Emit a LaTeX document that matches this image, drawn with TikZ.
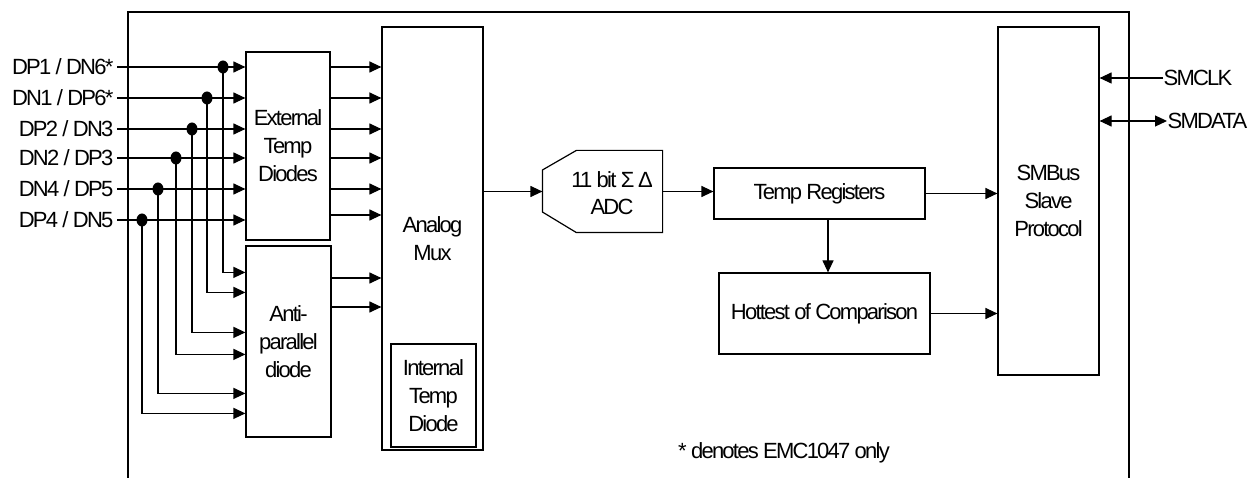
\documentclass[tikz,border=0pt]{standalone}
\usepackage{fontspec}
\setmainfont{Liberation Sans}[LetterSpace=-8]
\usetikzlibrary{arrows.meta,calc,shapes.geometric}
\begin{document}
\begin{tikzpicture}[x=1pt,y=-1pt,line width=1.2pt,
  box/.style={draw,rectangle,inner sep=0pt,align=center,font=\fontsize{22}{28}\selectfont},
  arr/.style={-{Triangle[length=12pt,width=11pt]}},
  darr/.style={{Triangle[length=12pt,width=11pt]}-{Triangle[length=12pt,width=11pt]}},
  lab/.style={font=\fontsize{22}{27}\selectfont,inner sep=0pt,align=center},
  dot/.style={ellipse,fill,inner sep=0pt,minimum width=11pt,minimum height=13pt}]
\useasboundingbox (0,0) rectangle (1256,478);
% outer frame
\draw (128,478) -- (128,12) -- (1129,12) -- (1129,478);
% blocks
\node[box,minimum width=84pt,minimum height=188pt] (ext) at (288,146) {External\\Temp\\Diodes};
\node[box,minimum width=85pt,minimum height=191pt] (anti) at (288.5,341.5) {Anti-\\parallel\\diode};
\node[box,minimum width=101pt,minimum height=423pt] (mux) at (432.5,238.5) {Analog\\Mux};
\node[box,minimum width=85pt,minimum height=103pt] (itd) at (433.5,395.5) {Internal\\Temp\\Diode};
\node[minimum width=119pt,minimum height=81pt,inner sep=0pt] (adc) at (602.5,191.5) {};
\draw (adc.north east) -- (adc.south east) -- ($(adc.south west)+(34,0)$) -- ($(adc.west)+(0,20.5)$)
  -- ($(adc.west)+(0,-21.5)$) -- ($(adc.north west)+(34,0)$) -- cycle;
\node[lab] (adct) at (612,193) {11 bit Σ\,Δ\\ADC};
\node[box,minimum width=211pt,minimum height=51pt] (treg) at (819.5,193.5) {Temp Registers};
\node[box,minimum width=211pt,minimum height=81pt] (hot) at (824.5,313.5) {Hottest of Comparison};
\node[box,minimum width=101pt,minimum height=348pt] (smb) at (1048.5,201) {SMBus\\Slave\\Protocol};
% input labels
\node[lab,anchor=east,inner xsep=3pt] (l1) at (117,67) {DP1 / DN6*};
\node[lab,anchor=east,inner xsep=3pt] (l2) at (117,98) {DN1 / DP6*};
\node[lab,anchor=east,inner xsep=3pt] (l3) at (117,129) {DP2 / DN3};
\node[lab,anchor=east,inner xsep=3pt] (l4) at (117,158) {DN2 / DP3};
\node[lab,anchor=east,inner xsep=3pt] (l5) at (117,189) {DN4 / DP5};
\node[lab,anchor=east,inner xsep=3pt] (l6) at (117,220) {DP4 / DN5};
% junction dots
\node[dot] (d1) at (223,67) {};
\node[dot] (d2) at (207,98) {};
\node[dot] (d3) at (192,129) {};
\node[dot] (d4) at (176,158) {};
\node[dot] (d5) at (158,189) {};
\node[dot] (d6) at (142,220) {};
% inputs to external diodes
\foreach \k in {1,...,6}{
  \draw[arr] (l\k.east) -- (d\k -| ext.west);
}
% taps to anti-parallel diode
\draw[arr] (d1.center) |- ($(anti.north west)+(0,27)$);
\draw[arr] (d2.center) |- ($(anti.north west)+(0,47)$);
\draw[arr] (d3.center) |- ($(anti.north west)+(0,87)$);
\draw[arr] (d4.center) |- ($(anti.north west)+(0,109)$);
\draw[arr] (d5.center) |- ($(anti.north west)+(0,148)$);
\draw[arr] (d6.center) |- ($(anti.north west)+(0,168)$);
% external diodes to mux
\foreach \k in {1,...,5}{
  \draw[arr] (ext.east |- d\k) -- (mux.west |- d\k);
}
\draw[arr] (ext.east |- 0,215) -- (mux.west |- 0,215);
% anti-parallel to mux
\draw[arr] (anti.east |- 0,278) -- (mux.west |- 0,278);
\draw[arr] (anti.east |- 0,307) -- (mux.west |- 0,307);
% chain
\draw[arr] (mux.east |- adc.west) -- (adc.west);
\draw[arr] (adc.east) -- (adc.east -| treg.west);
\draw[arr] (treg.east) -- (treg.east -| smb.west);
\coordinate (tr) at ($(treg.south)+(8.5,0)$);
\draw[arr] (tr) -- (tr |- hot.north);
\draw[arr] (hot.east) -- (hot.east -| smb.west);
% SMBus pins
\node[lab,anchor=west] (clk) at (1163,78) {SMCLK};
\node[lab,anchor=west] (dat) at (1167,121) {SMDATA};
\draw[arr] (clk.west) -- (clk.west -| smb.east);
\draw[darr] (dat.west) -- (dat.west -| smb.east);
% note
\node[lab] (note) at (784,453) {* denotes EMC1047 only};
\end{tikzpicture}
\end{document}
